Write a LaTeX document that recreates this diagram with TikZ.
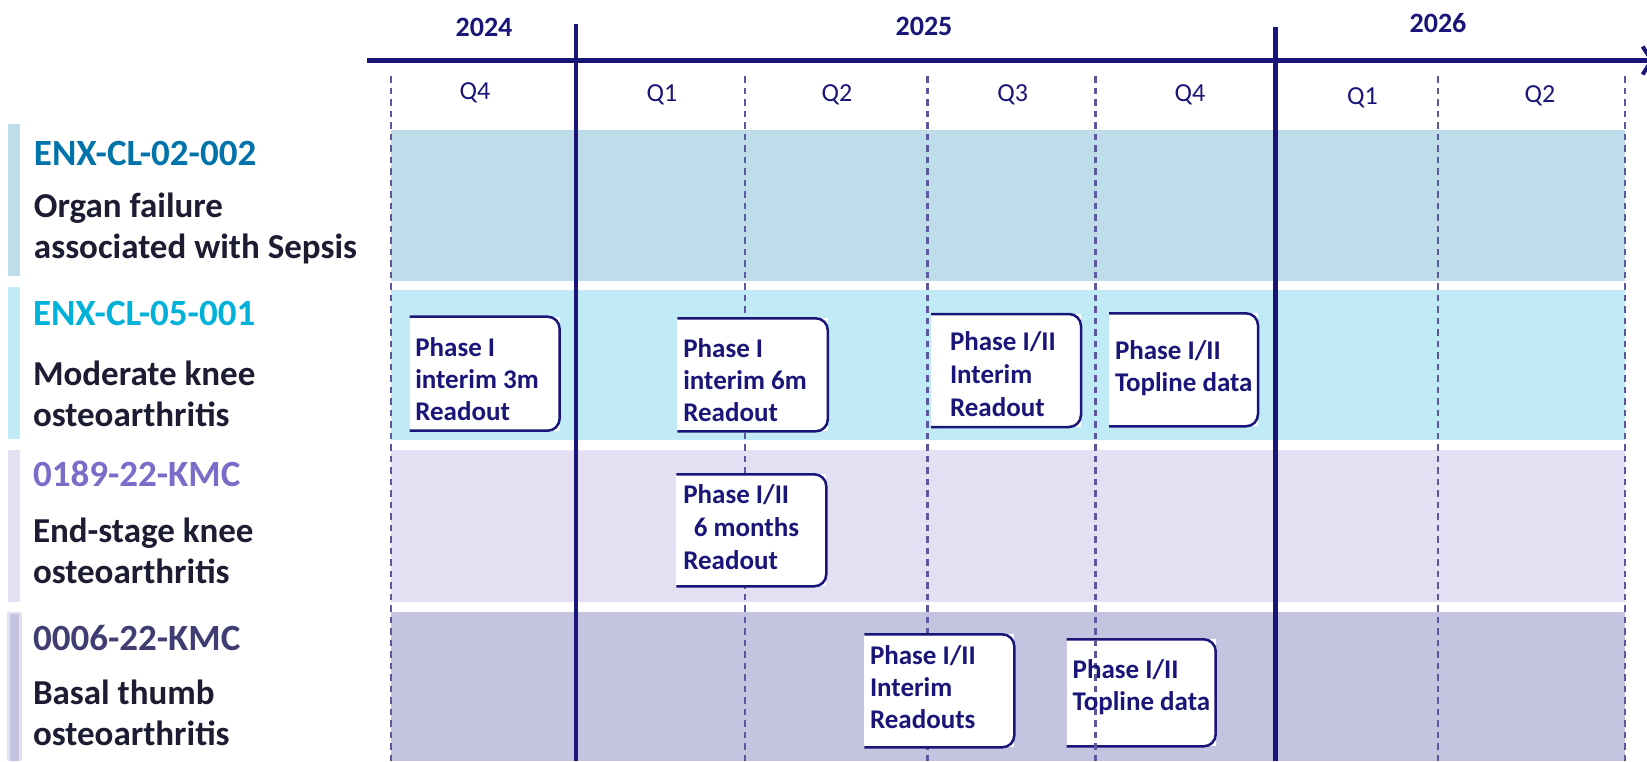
\documentclass[tikz,border=0pt]{standalone}
\usepackage{fontspec}
\setmainfont{Carlito}
\definecolor{navy}{RGB}{26,21,120}
\definecolor{gridline}{RGB}{92,88,158}
\definecolor{sepsisrow}{RGB}{191,220,234}
\definecolor{kneerow}{RGB}{193,234,247}
\definecolor{endstagerow}{RGB}{227,224,243}
\definecolor{thumbrow}{RGB}{196,195,224}
\definecolor{thumbedge}{RGB}{226,225,242}
\definecolor{sepsisid}{RGB}{0,116,170}
\definecolor{kneeid}{RGB}{0,178,217}
\definecolor{endstageid}{RGB}{122,108,200}
\definecolor{thumbid}{RGB}{64,61,115}
\definecolor{desctext}{RGB}{28,28,50}
\usepackage{tikz}
\usetikzlibrary{arrows.meta,positioning,calc}

\begin{document}
\begin{tikzpicture}[x=1pt,y=-1pt,
  every node/.style={inner sep=0pt,outer sep=0pt},
  yearlabel/.style={font=\fontsize{28}{28}\selectfont\bfseries,text=navy},
  qlabel/.style={font=\fontsize{26}{26}\selectfont,text=navy},
  axisline/.style={draw=navy,line width=5pt,-{Straight Barb[length=9pt,width=28pt,line width=4pt]}},
  yearline/.style={draw=navy,line width=4.5pt},
  qline/.style={draw=gridline,line width=2.4pt,dash pattern=on 6.5pt off 5pt},
  trialid/.style={anchor=base west,font=\fontsize{37}{37}\selectfont\bfseries},
  indication/.style={anchor=base west,align=left,text=desctext,font=\fontsize{35}{41}\selectfont\bfseries},
  milestone/.style={fill=white,anchor=north west,minimum width=150pt,minimum height=113pt},
  boxedge/.style={draw=navy,line width=2.5pt,rounded corners=12pt},
  milestonetext/.style={anchor=base west,align=left,text=navy,font=\fontsize{27}{32}\selectfont\bfseries}]
\useasboundingbox (0,0) rectangle (1647,761);
\fill[white] (0,0) rectangle (1647,761);

% rows
\fill[sepsisrow] (390.7,130) rectangle (1625,281);
\fill[kneerow] (390.7,289.5) rectangle (1625,440);
\fill[endstagerow] (390.7,449.6) rectangle (1625,602);
\fill[thumbrow] (390.7,612.4) rectangle (1625,761);
\fill[sepsisrow] (8.3,124) rectangle (20,275.7);
\fill[kneerow] (8.3,287) rectangle (20,439);
\fill[endstagerow] (8.3,450) rectangle (20,602);
\fill[thumbedge] (7,611.5) rectangle (21.5,761);
\fill[thumbrow] (10,614) rectangle (19,761);

% topline box under the Q4 line
\node[milestone,minimum height=107pt,minimum width=149pt] (b7) at (1066.7,639.3) {};
\draw[boxedge] (b7.north west) -- (b7.north east) -- (b7.south east) -- (b7.south west);

% quarters
\coordinate (q24d) at (390.7,76);
\coordinate (q25b) at (744.7,76);
\coordinate (q25c) at (927.5,76);
\coordinate (q25d) at (1095.6,76);
\coordinate (q26b) at (1438,76);
\coordinate (q26c) at (1625,76);
\draw[qline] (q24d) -- (q24d |- 0,761);
\draw[qline] (q25b) -- (q25b |- 0,761);
\draw[qline] (q25c) -- (q25c |- 0,761);
\draw[qline] (q25d) -- (q25d |- 0,761);
\draw[qline] (q26b) -- (q26b |- 0,761);
\draw[qline] (q26c) -- (q26c |- 0,761);

% axis and years
\coordinate (axisstart) at (367,60.5);
\coordinate (axisend) at (1654,60.5);
\draw[axisline] (axisstart) -- (axisend);
\coordinate (y25top) at (576,24);
\coordinate (y26top) at (1275.5,27);
\draw[yearline] (y25top) -- (y25top |- 0,761);
\draw[yearline] (y26top) -- (y26top |- 0,761);

\node[yearlabel] (y2024) at (484,27.5) {2024};
\node[yearlabel] (y2025) at (924,26) {2025};
\node[yearlabel] (y2026) at (1438,23) {2026};
\node[qlabel] (q4a) at (475,92.5) {Q4};
\node[qlabel] (q1b) at (662,94.5) {Q1};
\node[qlabel] (q2b) at (837,94.5) {Q2};
\node[qlabel] (q3b) at (1012.6,94.5) {Q3};
\node[qlabel] (q4b) at (1190,94.5) {Q4};
\node[qlabel] (q1c) at (1362.4,97.7) {Q1};
\node[qlabel] (q2c) at (1540,95.6) {Q2};

% trials
\node[trialid,text=sepsisid] (id1) at (34,165) {ENX-CL-02-002};
\node[indication] (ind1) at (34,258.5) {Organ failure\\associated with Sepsis};
\node[trialid,text=kneeid] (id2) at (33,325) {ENX-CL-05-001};
\node[indication] (ind2) at (33,426.7) {Moderate knee\\osteoarthritis};
\node[trialid,text=endstageid] (id3) at (33,486.7) {0189-22-KMC};
\node[indication] (ind3) at (33,583.3) {End-stage knee\\osteoarthritis};
\node[trialid,text=thumbid] (id4) at (33,650) {0006-22-KMC};
\node[indication] (ind4) at (33,745) {Basal thumb\\osteoarthritis};

% milestones
\node[milestone,minimum height=114pt] (b1) at (409.6,316.7) {};
\draw[boxedge] (b1.north west) -- (b1.north east) -- (b1.south east) -- (b1.south west);
\node[milestone,minimum width=150.5pt] (b2) at (677.3,318.3) {};
\draw[boxedge] (b2.north west) -- (b2.north east) -- (b2.south east) -- (b2.south west);
\node[milestone,minimum height=112pt] (b3) at (676.3,474.3) {};
\draw[boxedge] (b3.north west) -- (b3.north east) -- (b3.south east) -- (b3.south west);
\node[milestone] (b4) at (931,314) {};
\draw[boxedge] (b4.north west) -- (b4.north east) -- (b4.south east) -- (b4.south west);
\node[milestone,minimum width=149pt] (b5) at (1109,313.3) {};
\draw[boxedge] (b5.north west) -- (b5.north east) -- (b5.south east) -- (b5.south west);
\node[milestone] (b6) at (864.3,634.3) {};
\draw[boxedge] (b6.north west) -- (b6.north east) -- (b6.south east) -- (b6.south west);

\node[milestonetext] (m1) at (415.3,420) {Phase I\\interim 3m\\Readout};
\node[milestonetext] (m2) at (683.3,421.7) {Phase I\\interim 6m\\Readout};
\node[milestonetext,font=\fontsize{27}{33}\selectfont\bfseries] (m3) at (683.3,569.3) {Phase I/II\\\ \,6 months\\Readout};
\node[milestonetext,font=\fontsize{27}{33}\selectfont\bfseries] (m4) at (950,416.7) {Phase I/II\\Interim\\Readout};
\node[milestonetext] (m5) at (1115,391.7) {Phase I/II\\Topline data};
\node[milestonetext] (m6) at (870,728.3) {Phase I/II\\Interim\\Readouts};
\node[milestonetext] (m7) at (1072.7,710) {Phase I/II\\Topline data};
\end{tikzpicture}
\end{document}
